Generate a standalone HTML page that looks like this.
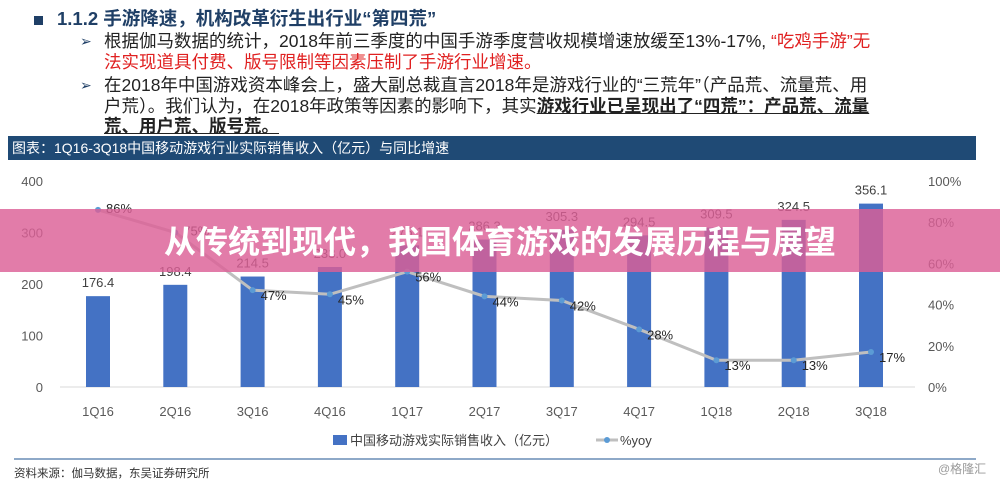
<!DOCTYPE html>
<html><head><meta charset="utf-8"><style>
body{margin:0;width:1000px;height:481px;background:#fff;overflow:hidden;position:relative;font-family:"Liberation Sans","Noto Sans CJK SC",sans-serif}
.abs{position:absolute}
.bl{white-space:nowrap;font-size:17.5px;line-height:20.5px;color:#222}
</style></head><body>
<div class="abs" style="left:34px;top:5px;font-size:18.5px;font-weight:bold;color:#1f3f66;white-space:nowrap"><span style="display:inline-block;width:9px;height:9px;background:#1f3f66;margin-right:14px;vertical-align:middle"></span>1.1.2 手游降速，机构改革衍生出行业“第四荒”</div>
<div class="abs bl" style="left:80px;top:31px"><span style="position:absolute;left:0;color:#1f3f66;font-size:14px">➢</span><div style="margin-left:24px">根据伽马数据的统计，2018年前三季度的中国手游季度营收规模增速放缓至13%-17%, <span style="color:#e02020">“吃鸡手游”无<br>法实现道具付费、版号限制等因素压制了手游行业增速。</span></div></div>
<div class="abs bl" style="left:80px;top:75px"><span style="position:absolute;left:0;color:#1f3f66;font-size:14px">➢</span><div style="margin-left:24px">在2018年中国游戏资本峰会上，盛大副总裁直言2018年是游戏行业的“三荒年”（产品荒、流量荒、用<br>户荒）。我们认为，在2018年政策等因素的影响下，其实<b style="text-decoration:underline">游戏行业已呈现出了“四荒”：产品荒、流量<br>荒、用户荒、版号荒。</b></div></div>
<div class="abs" style="left:8px;top:136px;width:968px;height:24px;background:#1f4a75;color:#fff;font-size:14px;line-height:24px;padding-left:4px;box-sizing:border-box">图表：1Q16-3Q18中国移动游戏行业实际销售收入（亿元）与同比增速</div>
<svg class="abs" style="left:0;top:0" width="1000" height="481" id="chart"></svg>
<div class="abs" style="left:14px;top:465px;font-size:11.5px;color:#333">资料来源：伽马数据，东吴证券研究所</div>
<div class="abs" style="left:938px;top:460px;font-size:12px;color:#999">@格隆汇</div>
<div class="abs" style="left:0;top:209px;width:1000px;height:63px;background:rgba(220,95,150,0.82);color:#fff;font-size:32px;font-weight:bold;text-align:center;line-height:63px;font-family:'Noto Sans CJK SC',sans-serif">从传统到现代，我国体育游戏的发展历程与展望</div>
<script>
const categories=["1Q16","2Q16","3Q16","4Q16","1Q17","2Q17","3Q17","4Q17","1Q18","2Q18","3Q18"];
const revenue=[176.4,198.4,214.5,233.0,275.1,286.3,305.3,294.5,309.5,324.5,356.1];
const yoy=[86,75,47,45,56,44,42,28,13,13,17];
const leftTicks=[0,100,200,300,400];
const rightTicks=[0,20,40,60,80,100];
const NS="http://www.w3.org/2000/svg";
const svg=document.getElementById('chart');
const y0=387,y1=181,x0=60,step=77.3,firstX=98;
const yL=v=>y0-(v/400)*(y0-y1);
const yR=v=>y0-(v/100)*(y0-y1);
const xC=i=>firstX+i*step;
function mk(t,a){const e=document.createElementNS(NS,t);for(const k in a)e.setAttribute(k,a[k]);svg.appendChild(e);return e;}
let ax=mk('line',{x1:x0,x2:915,y1:y0,y2:y0,stroke:'#d9d9d9'});

leftTicks.forEach(v=>{const t=mk('text',{x:43,y:yL(v)+5,'text-anchor':'end','font-size':13,fill:'#595959'});t.textContent=v;
});
rightTicks.forEach(v=>{const t=mk('text',{x:928,y:yR(v)+5,'font-size':13,fill:'#595959'});t.textContent=v+'%';
});
categories.forEach((c,i)=>{
const b=mk('rect',{x:xC(i)-12,y:yL(revenue[i]),width:24,height:y0-yL(revenue[i]),fill:'#4472c4'});

const l=mk('text',{x:xC(i),y:yL(revenue[i])-9,'text-anchor':'middle','font-size':13,fill:'#404040'});l.textContent=revenue[i].toFixed(1);

const t=mk('text',{x:xC(i),y:416,'text-anchor':'middle','font-size':13,fill:'#595959'});t.textContent=c;

});
const pl=mk('polyline',{points:yoy.map((v,i)=>xC(i)+','+yR(v)).join(' '),fill:'none',stroke:'#bfbfbf','stroke-width':3});

yoy.forEach((v,i)=>{const p=mk('circle',{cx:xC(i),cy:yR(v),r:3,fill:'#5b9bd5'});

const t=mk('text',{x:xC(i)+8,y:yR(v)+(i<2?3:10),'font-size':13,fill:'#262626'});t.textContent=v+'%';
});
const lg1=mk('rect',{x:333,y:435,width:14,height:10,fill:'#4472c4'});

const lt1=mk('text',{x:350,y:445,'font-size':13,fill:'#404040'});lt1.textContent='中国移动游戏实际销售收入（亿元）';

const lg2=mk('line',{x1:596,x2:618,y1:440,y2:440,stroke:'#bfbfbf','stroke-width':3});

const lg3=mk('circle',{cx:607,cy:440,r:3,fill:'#5b9bd5'});

const lt2=mk('text',{x:620,y:445,'font-size':13,fill:'#404040'});lt2.textContent='%yoy';

const fl=mk('line',{x1:14,x2:976,y1:459,y2:459,stroke:'#8ea9c8','stroke-width':2});

</script>
</body></html>
